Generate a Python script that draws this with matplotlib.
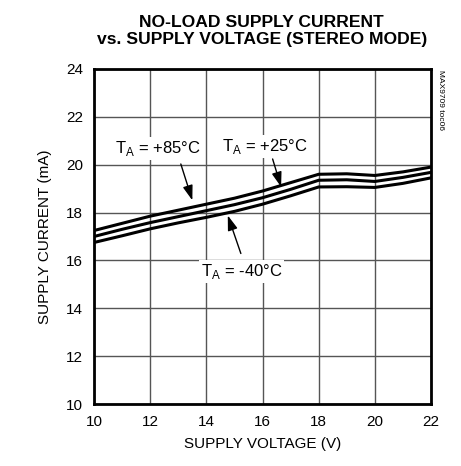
import matplotlib
matplotlib.use('Agg')
import matplotlib.pyplot as plt

plt.rcParams['font.family'] = ['Liberation Sans', 'DejaVu Sans']
plt.rcParams['mathtext.fontset'] = 'custom'
plt.rcParams['mathtext.rm'] = 'Liberation Sans'

# supply voltage (V)
voltage = [10, 11, 12, 13, 14, 15, 16, 17, 18, 19, 20, 21, 22]
# supply current (mA) for each temperature
i_85 = [17.25, 17.55, 17.85, 18.1, 18.35, 18.6, 18.9, 19.25, 19.6, 19.62, 19.55, 19.7, 19.9]
i_25 = [17.0, 17.3, 17.58, 17.83, 18.08, 18.33, 18.62, 18.97, 19.35, 19.37, 19.3, 19.47, 19.68]
i_m40 = [16.75, 17.03, 17.32, 17.57, 17.8, 18.05, 18.35, 18.7, 19.07, 19.08, 19.05, 19.22, 19.45]

x_ticks = [10, 12, 14, 16, 18, 20, 22]
y_ticks = [10, 12, 14, 16, 18, 20, 22, 24]

fig = plt.figure(figsize=(4.61, 4.66), dpi=100)
ax = fig.add_axes([0.204, 0.133, 0.731, 0.719])

for cur in (i_85, i_25, i_m40):
    ax.plot(voltage, cur, color='black', lw=2.2, zorder=3)

ax.set_xlim(10, 22)
ax.set_ylim(10, 24)
ax.set_xticks(x_ticks)
ax.set_yticks(y_ticks)
ax.tick_params(length=0, labelsize=11, pad=8)
ax.grid(True, color='#555555', lw=1.0)
for s in ax.spines.values():
    s.set_linewidth(2.0)

ax.set_xlabel('SUPPLY VOLTAGE (V)', fontsize=11, labelpad=6)
ax.set_ylabel('SUPPLY CURRENT (mA)', fontsize=11, labelpad=10)

fig.text(0.568, 0.968, 'NO-LOAD SUPPLY CURRENT\nvs. SUPPLY VOLTAGE (STEREO MODE)',
         ha='center', va='top', fontsize=12.6, fontweight='bold', linespacing=1.2)

fig.text(0.955, 0.85, 'MAX9709 toc06', rotation=270, ha='center', va='top', fontsize=6)

box = dict(facecolor='white', edgecolor='none', pad=1.5)
arrow = dict(arrowstyle='-|>,head_length=0.9,head_width=0.3', color='black', lw=1.0)

ax.text(12.26, 20.67, r'T$_\mathregular{A}$ = +85°C', ha='center', va='center', fontsize=12, bbox=box, zorder=4)
ax.annotate('', xy=(13.53, 18.4), xytext=(13.06, 20.14), arrowprops=arrow, zorder=5)

ax.text(16.09, 20.76, r'T$_\mathregular{A}$ = +25°C', ha='center', va='center', fontsize=12, bbox=box, zorder=4)
ax.annotate('', xy=(16.69, 18.96), xytext=(16.33, 20.35), arrowprops=arrow, zorder=5)

ax.text(15.25, 15.55, r'T$_\mathregular{A}$ = -40°C', ha='center', va='center', fontsize=12, bbox=box, zorder=4)
ax.annotate('', xy=(14.73, 17.99), xytext=(15.26, 16.18), arrowprops=arrow, zorder=5)

fig.savefig('out.png', dpi=100)
